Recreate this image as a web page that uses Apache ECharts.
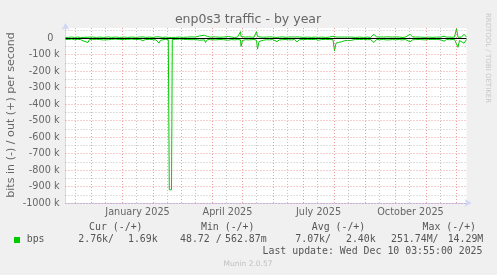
<!DOCTYPE html>
<html><head><meta charset="utf-8">
<script src="https://cdn.jsdelivr.net/npm/echarts@6/dist/echarts.min.js"></script>
<style>html,body{margin:0;padding:0;background:#f0f0f0}#c{width:497px;height:275px}</style>
</head><body><div id="c"></div>
<script>
// days since 5 Nov 2024 (x axis), values in kbit/s
const days = [0,1.5,3,6,9,12,15,17.5,19,22.5,24,27,29,31,34,38,40,43,46,50,54,59,62,66,70,74,77.5,80,84,88,90.5,92.5,93.5,95,97,100,102.8,103.8,106,106.8,110,114,118,122,126.5,130,134,136,139,140,142,143,145,147,150,154.5,158,160,163,166,169,172,175,175.5,177,180,183,186,188.5,191,192,193.5,195.5,198,201,204,207,211.5,214,217,219.5,223,226,229,231.5,234,238,242,246,250,253,256,260,264,267.5,269,270.5,273,276,279,282,285,287,290,294,298,302,305,308.5,311,314,318,321,323.5,327,330,332,334,336.5,340,342,344.5,347,350,352,355,359.5,363,367.5,371,375,378.5,381,384,386.5,389,391,392.5,394,396,398.5,401];
const outK = [5,15,5,7,5,7,5,5,5,6, 5,7,6,5,7,5,5,8,5,7, 5,7,5,7,5,7,8,5,7,5, 8,20,8,10,5,7,5,5,5,5, 5,7,5,7,8,7,14,8,18,6, 10,8,7,10,8,6,7,8,10,7, 5,7,40,10,6,7,8,7,6,40, 10,8,7,6,7,8,7,5,7,8, 6,7,8,7,8,7,5,7,5,7, 5,7,5,7,12,7,7,7,7,7, 7,7,7,5,7,5,7,5,24,7, 8,7,8,8,7,8,12,7,5,7, 8,24,8,7,8,7,5,7,5,7, 7,12,7,7,6,7,58,6,10,7, 24,7];
const inK = [-7,-15,-8,-5,-9,-7,-8,-16,-7,-26, -8,-7,-8,-7,-8,-10,-7,-9,-7,-5, -8,-8,-7,-5,-8,-7,-14,-8,-7,-9, -10,-10,-30,-12,-8,-7,-8,-920,-920,-8, -7,-5,-7,-8,-9,-8,-12,-10,-10,-26, -8,-18,-9,-14,-10,-8,-9,-7,-12,-8, -10,-8,-10,-50,-14,-9,-10,-9,-8,-12, -66,-20,-10,-12,-9,-10,-8,-20,-10,-9, -8,-9,-10,-8,-22,-9,-8,-7,-8,-7, -12,-8,-7,-8,-9,-77,-30,-25,-22,-15, -14,-14,-8,-7,-8,-7,-9,-8,-26,-8, -9,-8,-10,-10,-8,-9,-14,-8,-10,-8, -10,-22,-10,-8,-8,-8,-10,-8,-7,-8, -9,-18,-8,-9,-8,-8,-10,-55,-14,-9, -30,-8];
const yTicks = [0,-100000,-200000,-300000,-400000,-500000,-600000,-700000,-800000,-900000,-1000000];
const yMinor = [50000,-50000,-150000,-250000,-350000,-450000,-550000,-650000,-750000,-850000,-950000];
const monthStarts = [26,57,88,116,147,177,208,238,269,300,330,361,391];
const midMonths = [10,40,71,102,130,161,191,222,252,283,314,344,375];
const xLabelDays = [72,162,253,345];
const xLabels = ['January 2025','April 2025','July 2025','October 2025'];
const legendHeads = ['Cur (-/+)','Min (-/+)','Avg (-/+)','Max (-/+)'];
const legendIn = ['2.76k/','48.72 /','7.07k/','251.74M/'];
const legendOut = ['1.69k','562.87m','2.40k','14.29M'];

const chart = echarts.init(document.getElementById('c'), null, {renderer:'canvas'});
const F = 'DejaVu Sans';
const GREEN = '#00cc00';
const red = {color:'rgba(222,79,79,0.55)', type:[1,2], width:1};
const gray = {color:'rgba(143,143,143,0.55)', type:[1,2], width:1};

const gridLines = [];
yMinor.forEach(v=>gridLines.push({yAxis:v, lineStyle:gray}));
midMonths.forEach(v=>gridLines.push({xAxis:v, lineStyle:gray}));
yTicks.filter(v=>v!==0).forEach(v=>gridLines.push({yAxis:v, lineStyle:red}));
monthStarts.forEach(v=>gridLines.push({xAxis:v, lineStyle:red}));

const headX = [115.8,227.7,338.5,449.3];
const inX = [78.3,180,295.3,391];
const outX = [157.7,266.7,375.7,483.3];
const graphics = [
  {type:'text', x:248, y:19.5, style:{text:'enp0s3 traffic - by year', font:'12.5px "DejaVu Sans"', fill:'#666', align:'center', verticalAlign:'middle'}},
  {type:'text', x:10.8, y:115, rotation:Math.PI/2, style:{text:'bits in (-) / out (+) per second', font:'11.1px "DejaVu Sans"', fill:'#666', align:'center', verticalAlign:'middle'}},
  {type:'text', x:487.5, y:58, rotation:-Math.PI/2, style:{text:'RRDTOOL / TOBI OETIKER', font:'7px "DejaVu Sans"', fill:'#c8c8c8', align:'center', verticalAlign:'middle'}},
  {type:'rect', shape:{x:14, y:237, width:6, height:6}, style:{fill:GREEN}},
  {type:'text', x:26.7, y:239.5, style:{text:'bps', font:'9.9px "DejaVu Sans Mono"', fill:'#555', align:'left', verticalAlign:'middle'}},
  {type:'text', x:482.5, y:251, style:{text:'Last update: Wed Dec 10 03:55:00 2025', font:'9.9px "DejaVu Sans Mono"', fill:'#555', align:'right', verticalAlign:'middle'}},
  {type:'text', x:248, y:264.3, style:{text:'Munin 2.0.57', font:'7.5px "DejaVu Sans"', fill:'#c0c0c0', align:'center', verticalAlign:'middle'}}
];
legendHeads.forEach((t,i)=>graphics.push({type:'text', x:headX[i], y:227.7, style:{text:t, font:'9.9px "DejaVu Sans Mono"', fill:'#555', align:'center', verticalAlign:'middle'}}));
legendIn.forEach((t,i)=>graphics.push({type:'text', x:inX[i], y:239.5, style:{text:t, font:'9.9px "DejaVu Sans Mono"', fill:'#555', align:'left', verticalAlign:'middle'}}));
legendOut.forEach((t,i)=>graphics.push({type:'text', x:outX[i], y:239.5, style:{text:t, font:'9.9px "DejaVu Sans Mono"', fill:'#555', align:'right', verticalAlign:'middle'}}));

chart.setOption({
  animation:false,
  backgroundColor:'#f0f0f0',
  grid:{left:65.5, top:28, width:401, height:175, show:true, backgroundColor:'#ffffff', borderWidth:0},
  xAxis:{type:'value', min:0, max:401,
    axisLine:{show:true, onZero:false, lineStyle:{color:'#cfd6f8', width:1}, symbol:['none','arrow'], symbolSize:[6,7], symbolOffset:[0,5]},
    axisTick:{show:false}, splitLine:{show:false},
    axisLabel:{customValues:xLabelDays, formatter:v=>xLabels[xLabelDays.indexOf(v)] || '', color:'#666', fontFamily:F, fontSize:9.7, margin:4}},
  yAxis:{type:'value', min:-1000000, max:62000,
    axisLine:{show:true, onZero:false, lineStyle:{color:'#cfd6f8', width:1}, symbol:['none','arrow'], symbolSize:[6,7], symbolOffset:[0,5]},
    axisTick:{show:false}, splitLine:{show:false},
    axisLabel:{customValues:yTicks, formatter:v=> v===0 ? '0  ' : (v/1000)+' k', color:'#666', fontFamily:F, fontSize:9.7, margin:6}},
  graphic:graphics,
  series:[
    {type:'line', data:[], z:1, silent:true, markLine:{silent:true, symbol:'none', label:{show:false}, animation:false, data:gridLines}},
    {type:'line', data:[], z:2, silent:true, markLine:{silent:true, symbol:'none', label:{show:false}, animation:false, data:[{yAxis:0, lineStyle:{color:'#000', width:1, type:'solid'}}]}},
    {name:'out', type:'line', z:3, showSymbol:false, silent:true, lineStyle:{color:GREEN, width:1}, data:days.map((d,i)=>[d, outK[i]*1000])},
    {name:'in', type:'line', z:3, showSymbol:false, silent:true, lineStyle:{color:GREEN, width:1}, data:days.map((d,i)=>[d, inK[i]*1000])}
  ]
});
</script></body></html>
